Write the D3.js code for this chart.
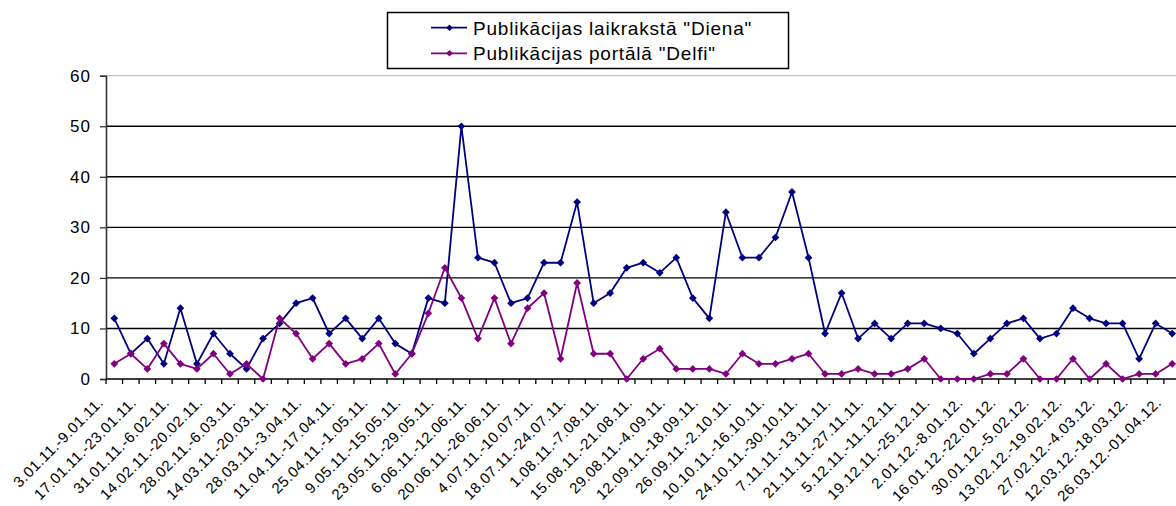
<!DOCTYPE html>
<html>
<head>
<meta charset="utf-8">
<script src="https://cdn.jsdelivr.net/npm/d3@7"></script>
<style>
  html, body { margin: 0; padding: 0; background: #fff; }
  svg { display: block; font-family: "Liberation Sans", Arial, sans-serif; }
</style>
</head>
<body>
<svg id="chart" width="1176" height="506"></svg>
<script>
// ---- data ----
const seriesNames = ['Publikācijas laikrakstā "Diena"', 'Publikācijas portālā "Delfi"'];
const seriesColors = ["#000080", "#800080"];

const diena = [12,5,8,3,14,3,9,5,2,8,11,15,16,9,12,8,
               12,7,5,16,15,50,24,23,15,16,23,23,35,15,17,22,
               23,21,24,16,12,33,24,24,28,37,24,9,17,8,11,8,11,
               11,10,9,5,8,11,12,8,9,14,12,11,11,4,11,9];

const delfi = [3,5,2,7,3,2,5,1,3,0,12,9,4,7,3,4,
               7,1,5,13,22,16,8,16,7,14,17,4,19,5,5,0,
               4,6,2,2,2,1,5,3,3,4,5,1,1,2,1,1,2,
               4,0,0,0,1,1,4,0,0,4,0,3,0,1,1,3];

// labels shown on every second week
const tickLabels = [
  "3.01.11.-9.01.11.", "17.01.11.-23.01.11.", "31.01.11.-6.02.11.", "14.02.11.-20.02.11.",
  "28.02.11.-6.03.11.", "14.03.11.-20.03.11.", "28.03.11.-3.04.11.", "11.04.11.-17.04.11.",
  "25.04.11.-1.05.11.", "9.05.11.-15.05.11.", "23.05.11.-29.05.11.", "6.06.11.-12.06.11.",
  "20.06.11.-26.06.11.", "4.07.11.-10.07.11.", "18.07.11.-24.07.11.", "1.08.11.-7.08.11.",
  "15.08.11.-21.08.11.", "29.08.11.-4.09.11.", "12.09.11.-18.09.11.", "26.09.11.-2.10.11.",
  "10.10.11.-16.10.11.", "24.10.11.-30.10.11.", "7.11.11.-13.11.11.", "21.11.11.-27.11.11.",
  "5.12.11.-11.12.11.", "19.12.11.-25.12.11.", "2.01.12.-8.01.12.", "16.01.12.-22.01.12.",
  "30.01.12.-5.02.12.", "13.02.12.-19.02.12.", "27.02.12.-4.03.12.", "12.03.12.-18.03.12.",
  "26.03.12.-01.04.12."
];
const yTicks = [0, 10, 20, 30, 40, 50, 60];

// ---- layout ----
const svg = d3.select("#chart");
const plotLeft = 106, step = 16.53;
const n = diena.length;
const plotTop = 75.7, plotBottom = 379;

const x = d3.scaleBand().domain(d3.range(n)).range([plotLeft, plotLeft + n * step]).padding(0);
const y = d3.scaleLinear().domain([0, 60]).range([plotBottom, plotTop]);
const cx = i => x(i) + x.bandwidth() / 2;

// top border (gray)
svg.append("line")
  .attr("x1", plotLeft).attr("x2", 1176)
  .attr("y1", y(60)).attr("y2", y(60))
  .attr("stroke", "#c0c0c0").attr("stroke-width", 1.3);

// gridlines
svg.append("g").selectAll("line")
  .data(yTicks.filter(t => t > 0 && t < 60))
  .join("line")
  .attr("x1", plotLeft).attr("x2", 1176)
  .attr("y1", d => y(d)).attr("y2", d => y(d))
  .attr("stroke", "#000").attr("stroke-width", 1.4);

// y axis
const yAxis = svg.append("g")
  .attr("transform", `translate(${plotLeft},0)`)
  .call(d3.axisLeft(y).tickValues(yTicks).tickSize(6).tickPadding(9));
yAxis.select(".domain").attr("stroke", "#333").attr("stroke-width", 1.6);
yAxis.selectAll(".tick line").attr("stroke", "#333").attr("stroke-width", 1.3);
yAxis.selectAll(".tick text")
  .attr("font-size", 17).attr("fill", "#000")
  .attr("letter-spacing", "1px")
  .attr("font-family", "Liberation Sans, Arial, sans-serif");

// x axis line + ticks at band boundaries
const xg = svg.append("g");
xg.append("line")
  .attr("x1", plotLeft).attr("x2", 1176)
  .attr("y1", plotBottom).attr("y2", plotBottom)
  .attr("stroke", "#000").attr("stroke-width", 1.6);
xg.selectAll("line.tk")
  .data(d3.range(n + 1))
  .join("line").attr("class", "tk")
  .attr("x1", i => plotLeft + i * x.step()).attr("x2", i => plotLeft + i * x.step())
  .attr("y1", plotBottom).attr("y2", plotBottom + 5)
  .attr("stroke", "#000").attr("stroke-width", 1.3);

// x labels
xg.selectAll("text.xl")
  .data(tickLabels)
  .join("text").attr("class", "xl")
  .attr("transform", (d, k) => `translate(${cx(k * 2) - 10},403.5) rotate(-45)`)
  .attr("text-anchor", "end")
  .attr("font-size", 15)
  .attr("letter-spacing", "0.5px")
  .attr("fill", "#000")
  .text(d => d);

// series
const series = [diena, delfi];
const line = d3.line().x((d, i) => cx(i)).y(d => y(d));
const marker = d3.symbol(d3.symbolSquare, 30);

series.forEach((vals, s) => {
  const g = svg.append("g");
  g.append("path")
    .datum(vals)
    .attr("d", line)
    .attr("fill", "none")
    .attr("stroke", seriesColors[s])
    .attr("stroke-width", 1.8)
    .attr("stroke-linejoin", "round");
  g.selectAll("path.m")
    .data(vals)
    .join("path").attr("class", "m")
    .attr("d", marker)
    .attr("transform", (d, i) => `translate(${cx(i)},${y(d)}) rotate(45)`)
    .attr("fill", seriesColors[s]);
});

// legend
const lg = svg.append("g");
lg.append("rect")
  .attr("x", 387.5).attr("y", 12.5).attr("width", 401).attr("height", 56)
  .attr("fill", "#fff").attr("stroke", "#000").attr("stroke-width", 1.5);
const rowsY = [27.7, 53.3];
seriesNames.forEach((name, s) => {
  lg.append("line")
    .attr("x1", 431).attr("x2", 467)
    .attr("y1", rowsY[s]).attr("y2", rowsY[s])
    .attr("stroke", seriesColors[s]).attr("stroke-width", 1.8);
  lg.append("path")
    .attr("d", d3.symbol(d3.symbolSquare, 22)())
    .attr("transform", `translate(449.5,${rowsY[s]}) rotate(45)`)
    .attr("fill", seriesColors[s]);
  lg.append("text")
    .attr("x", 473).attr("y", rowsY[s])
    .attr("dy", "0.36em")
    .attr("font-size", 19)
    .attr("letter-spacing", "0.8px")
    .attr("fill", "#000")
    .text(name);
});
</script>
</body>
</html>
